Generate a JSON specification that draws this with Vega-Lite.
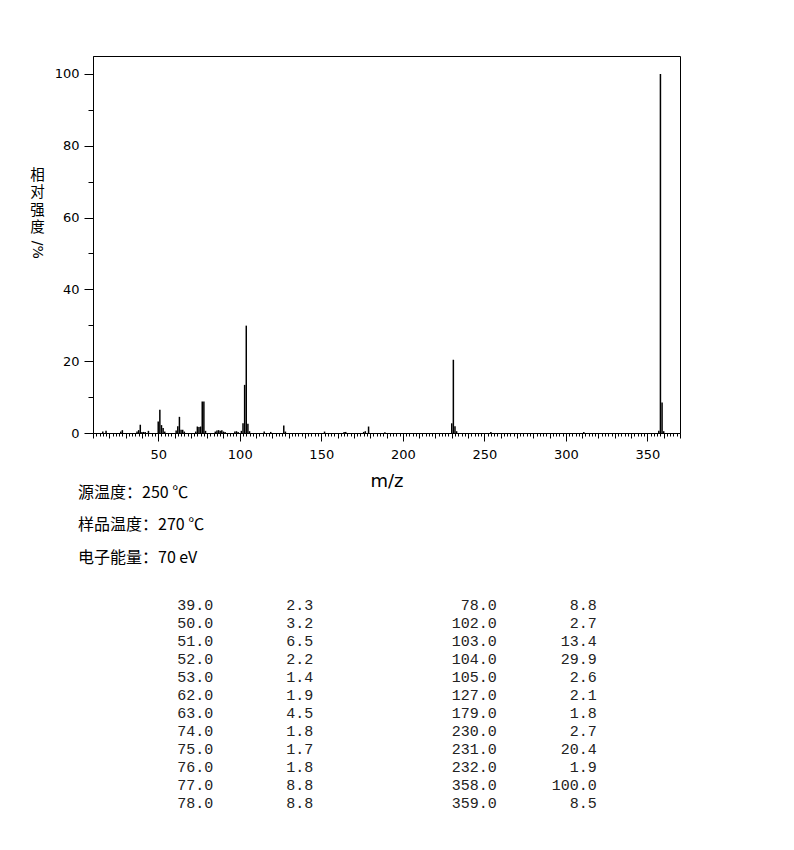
{
  "$schema": "https://vega.github.io/schema/vega-lite/v6.json",
  "width": 587,
  "height": 377,
  "padding": {"left": 29, "top": 56, "right": 10, "bottom": 10},
  "background": "white",
  "view": {"stroke": "black", "strokeWidth": 1},
  "config": {"font": "DejaVu Sans", "text": {"color": "black"}},
  "datasets": {
    "peaks": [
      {"mz": 16, "intensity": 0.4}, {"mz": 18, "intensity": 0.6},
      {"mz": 27, "intensity": 0.4}, {"mz": 28, "intensity": 0.8},
      {"mz": 37, "intensity": 0.4}, {"mz": 38, "intensity": 0.8}, {"mz": 39, "intensity": 2.3},
      {"mz": 40, "intensity": 0.3}, {"mz": 41, "intensity": 0.3}, {"mz": 42, "intensity": 0.3}, {"mz": 44, "intensity": 0.6},
      {"mz": 50, "intensity": 3.2}, {"mz": 51, "intensity": 6.5}, {"mz": 52, "intensity": 2.2}, {"mz": 53, "intensity": 1.4}, {"mz": 54, "intensity": 0.4},
      {"mz": 61, "intensity": 0.7}, {"mz": 62, "intensity": 1.9}, {"mz": 63, "intensity": 4.5}, {"mz": 64, "intensity": 0.9}, {"mz": 65, "intensity": 0.9}, {"mz": 66, "intensity": 0.4},
      {"mz": 73, "intensity": 0.4}, {"mz": 74, "intensity": 1.8}, {"mz": 75, "intensity": 1.7}, {"mz": 76, "intensity": 1.8}, {"mz": 77, "intensity": 8.8}, {"mz": 78, "intensity": 8.8}, {"mz": 79, "intensity": 0.6},
      {"mz": 85, "intensity": 0.4}, {"mz": 86, "intensity": 0.7}, {"mz": 87, "intensity": 0.8}, {"mz": 88, "intensity": 0.6}, {"mz": 89, "intensity": 0.8}, {"mz": 90, "intensity": 0.4}, {"mz": 91, "intensity": 0.3},
      {"mz": 97, "intensity": 0.4}, {"mz": 98, "intensity": 0.5}, {"mz": 99, "intensity": 0.3}, {"mz": 101, "intensity": 0.6},
      {"mz": 102, "intensity": 2.7}, {"mz": 103, "intensity": 13.4}, {"mz": 104, "intensity": 29.9}, {"mz": 105, "intensity": 2.6}, {"mz": 106, "intensity": 0.5},
      {"mz": 115, "intensity": 0.4}, {"mz": 119, "intensity": 0.3}, {"mz": 127, "intensity": 2.1}, {"mz": 128, "intensity": 0.4},
      {"mz": 152, "intensity": 0.4}, {"mz": 164, "intensity": 0.3}, {"mz": 165, "intensity": 0.3}, {"mz": 176, "intensity": 0.3}, {"mz": 177, "intensity": 0.5}, {"mz": 179, "intensity": 1.8}, {"mz": 189, "intensity": 0.2},
      {"mz": 230, "intensity": 2.7}, {"mz": 231, "intensity": 20.4}, {"mz": 232, "intensity": 1.9}, {"mz": 233, "intensity": 0.5},
      {"mz": 254, "intensity": 0.3}, {"mz": 311, "intensity": 0.3},
      {"mz": 357, "intensity": 0.6}, {"mz": 358, "intensity": 100}, {"mz": 359, "intensity": 8.5}, {"mz": 360, "intensity": 0.5}
    ],
    "ylab": [{"t": "/%"}],
    "info": [
      {"row": 1, "block": "info", "text": "源温度：250 ℃"},
      {"row": 2, "block": "info", "text": "样品温度：270 ℃"},
      {"row": 3, "block": "info", "text": "电子能量：70 eV"}
    ],
    "table": [
      {"block": "L", "row": 1, "mz": "39.0", "ab": "2.3"},
      {"block": "L", "row": 2, "mz": "50.0", "ab": "3.2"},
      {"block": "L", "row": 3, "mz": "51.0", "ab": "6.5"},
      {"block": "L", "row": 4, "mz": "52.0", "ab": "2.2"},
      {"block": "L", "row": 5, "mz": "53.0", "ab": "1.4"},
      {"block": "L", "row": 6, "mz": "62.0", "ab": "1.9"},
      {"block": "L", "row": 7, "mz": "63.0", "ab": "4.5"},
      {"block": "L", "row": 8, "mz": "74.0", "ab": "1.8"},
      {"block": "L", "row": 9, "mz": "75.0", "ab": "1.7"},
      {"block": "L", "row": 10, "mz": "76.0", "ab": "1.8"},
      {"block": "L", "row": 11, "mz": "77.0", "ab": "8.8"},
      {"block": "L", "row": 12, "mz": "78.0", "ab": "8.8"},
      {"block": "R", "row": 1, "mz": "78.0", "ab": "8.8"},
      {"block": "R", "row": 2, "mz": "102.0", "ab": "2.7"},
      {"block": "R", "row": 3, "mz": "103.0", "ab": "13.4"},
      {"block": "R", "row": 4, "mz": "104.0", "ab": "29.9"},
      {"block": "R", "row": 5, "mz": "105.0", "ab": "2.6"},
      {"block": "R", "row": 6, "mz": "127.0", "ab": "2.1"},
      {"block": "R", "row": 7, "mz": "179.0", "ab": "1.8"},
      {"block": "R", "row": 8, "mz": "230.0", "ab": "2.7"},
      {"block": "R", "row": 9, "mz": "231.0", "ab": "20.4"},
      {"block": "R", "row": 10, "mz": "232.0", "ab": "1.9"},
      {"block": "R", "row": 11, "mz": "358.0", "ab": "100.0"},
      {"block": "R", "row": 12, "mz": "359.0", "ab": "8.5"}
    ]
  },
  "layer": [
    {
      "data": {"name": "peaks"},
      "mark": {"type": "rule", "color": "black", "strokeWidth": 1.5},
      "encoding": {
        "x": {
          "field": "mz", "type": "quantitative",
          "scale": {"domain": [10, 370], "nice": false, "zero": false},
          "axis": {
            "title": "m/z",
            "values": [10,12,14,16,18,20,22,24,26,28,30,32,34,36,38,40,42,44,46,48,50,52,54,56,58,60,62,64,66,68,70,72,74,76,78,80,82,84,86,88,90,92,94,96,98,100,102,104,106,108,110,112,114,116,118,120,122,124,126,128,130,132,134,136,138,140,142,144,146,148,150,152,154,156,158,160,162,164,166,168,170,172,174,176,178,180,182,184,186,188,190,192,194,196,198,200,202,204,206,208,210,212,214,216,218,220,222,224,226,228,230,232,234,236,238,240,242,244,246,248,250,252,254,256,258,260,262,264,266,268,270,272,274,276,278,280,282,284,286,288,290,292,294,296,298,300,302,304,306,308,310,312,314,316,318,320,322,324,326,328,330,332,334,336,338,340,342,344,346,348,350,352,354,356,358,360,362,364,366,368,370],
            "labelExpr": "datum.value % 50 === 0 ? datum.label : ''",
            "labelOverlap": false,
            "labelFlush": false,
            "tickSize": {"condition": [{"test": "datum.value % 50 === 0", "value": 8}, {"test": "datum.value % 10 === 0", "value": 5}], "value": 3},
            "tickColor": "black",
            "domainColor": "black",
            "labelColor": "black",
            "labelFontSize": 13,
            "labelPadding": 7,
            "grid": false,
            "titleFontSize": 18,
            "titleFontWeight": "normal",
            "titleColor": "black",
            "titlePadding": 11
          }
        },
        "y": {
          "field": "intensity", "type": "quantitative",
          "scale": {"domain": [0, 105], "nice": false, "zero": true},
          "axis": {
            "title": ["相", "对", "强", "度"],
            "titleAngle": 0,
            "titleAlign": "center",
            "titleBaseline": "top",
            "titleX": -56,
            "titleY": 112,
            "titleLineHeight": 17.5,
            "titleFont": "Noto Sans CJK SC",
            "titleFontSize": 14.5,
            "titleFontWeight": "normal",
            "titleColor": "black",
            "values": [0, 10, 20, 30, 40, 50, 60, 70, 80, 90, 100],
            "labelExpr": "datum.value % 20 === 0 ? datum.label : ''",
            "tickSize": {"condition": {"test": "datum.value % 20 === 0", "value": 9}, "value": 5},
            "tickColor": "black",
            "domainColor": "black",
            "labelColor": "black",
            "labelFontSize": 13,
            "labelPadding": 5,
            "grid": false
          }
        },
        "y2": {"datum": 0}
      }
    },
    {
      "data": {"name": "ylab"},
      "mark": {"type": "text", "angle": 90, "font": "DejaVu Sans", "fontSize": 14, "align": "center", "baseline": "middle", "xOffset": -56, "color": "black"},
      "encoding": {
        "x": {"datum": 10, "scale": {"domain": [10, 370], "nice": false, "zero": false}, "axis": null},
        "y": {"datum": 51, "scale": {"domain": [0, 105], "nice": false}, "axis": null},
        "text": {"field": "t"}
      }
    },
    {
      "data": {"name": "info"},
      "mark": {"type": "text", "align": "left", "baseline": "middle", "font": "Noto Sans CJK SC", "fontSize": 16, "color": "black"},
      "encoding": {
        "x": {"field": "block", "type": "nominal", "scale": {"range": [-15, -15]}, "axis": null},
        "y": {"field": "row", "type": "ordinal", "scale": {"range": [436.5, 501.5], "padding": 0}, "axis": null},
        "text": {"field": "text"}
      }
    },
    {
      "data": {"name": "table"},
      "mark": {"type": "text", "align": "right", "baseline": "middle", "font": "Liberation Mono", "fontSize": 15, "color": "#222"},
      "encoding": {
        "x": {"field": "block", "type": "nominal", "scale": {"range": [120.3, 403.7], "padding": 0}, "axis": null},
        "y": {"field": "row", "type": "ordinal", "scale": {"range": [549, 747], "padding": 0}, "axis": null},
        "text": {"field": "mz"}
      }
    },
    {
      "data": {"name": "table"},
      "mark": {"type": "text", "align": "right", "baseline": "middle", "font": "Liberation Mono", "fontSize": 15, "color": "#222"},
      "encoding": {
        "x": {"field": "block", "type": "nominal", "scale": {"range": [220.3, 503.7], "padding": 0}, "axis": null},
        "y": {"field": "row", "type": "ordinal", "scale": {"range": [549, 747], "padding": 0}, "axis": null},
        "text": {"field": "ab"}
      }
    }
  ],
  "resolve": {"scale": {"x": "independent", "y": "independent"}}
}
